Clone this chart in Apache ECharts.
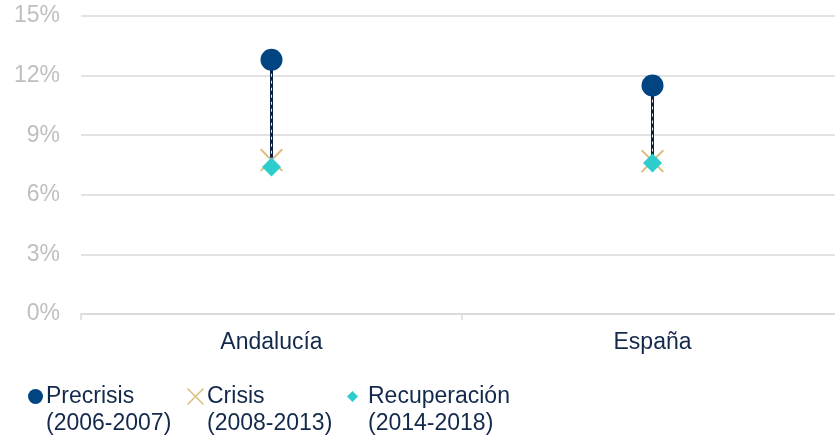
<!DOCTYPE html>
<html>
<head>
<meta charset="utf-8">
<script src="https://cdn.jsdelivr.net/npm/echarts@6/dist/echarts.min.js"></script>
<style>html,body{margin:0;padding:0;background:#fff}#c{width:835px;height:437px}</style>
</head>
<body>
<div id="c"></div>
<script>
const categories = ['Andalucía', 'España'];
const seriesNames = ['Precrisis', 'Crisis', 'Recuperación'];
const periods = ['(2006-2007)', '(2008-2013)', '(2014-2018)'];
const precrisis = [12.8, 11.5];
const crisis = [7.75, 7.7];
const recuperacion = [7.4, 7.6];
const yTicks = [0, 3, 6, 9, 12, 15];

const rangeData = categories.map((c, i) => [i, precrisis[i], Math.min(crisis[i], recuperacion[i])]);

const crossPath = 'path://M0,6L6,0L50,44L94,0L100,6L56,50L100,94L94,100L50,56L6,100L0,94L44,50Z';
const font = 'Liberation Sans, Arial, sans-serif';
const navy = '#13294B';
function legendStyle(padLeft) {
  return {
    fontFamily: font, fontSize: 23, color: navy,
    rich: {
      s: {fontSize: 23, lineHeight: 27, height: 27},
      a: {fontFamily: font, fontSize: 23, color: navy, lineHeight: 27, padding: [0, 0, 0, padLeft]}
    }
  };
}
const fmt = name => '{s| }\n{a|' + name + '}\n{a|' + periods[seriesNames.indexOf(name)] + '}';

const chart = echarts.init(document.getElementById('c'), null, {renderer: 'canvas'});
chart.setOption({
  animation: false,
  grid: {left: 81, width: 762, top: 16, bottom: 123, containLabel: false, outerBoundsMode: 'none'},
  xAxis: {
    type: 'category', data: categories,
    axisLine: {lineStyle: {color: '#D9D9D9', width: 1.5}},
    axisTick: {show: true, length: 6, lineStyle: {color: '#D9D9D9', width: 1.5}},
    axisLabel: {fontFamily: font, fontSize: 23, color: navy, margin: 17}
  },
  yAxis: {
    type: 'value', min: yTicks[0], max: yTicks[yTicks.length - 1], interval: 3,
    axisLine: {show: false}, axisTick: {show: false},
    splitLine: {lineStyle: {color: '#D9D9D9', width: 1.5}},
    axisLabel: {fontFamily: font, fontSize: 23, color: '#BFBFBF', margin: 21, formatter: '{value}%'}
  },
  legend: [
    {data: [{name: seriesNames[0], icon: 'circle'}], left: 23, top: 351, itemWidth: 15, itemHeight: 15,
     formatter: fmt, textStyle: legendStyle(-2)},
    {data: [{name: seriesNames[1], icon: crossPath}], left: 182, top: 351, itemWidth: 17, itemHeight: 17,
     formatter: fmt, textStyle: legendStyle(-2)},
    {data: [{name: seriesNames[2], icon: 'diamond'}], left: 342, top: 351, itemWidth: 11, itemHeight: 11,
     formatter: fmt, textStyle: legendStyle(5)}
  ],
  series: [
    {
      type: 'custom', name: 'range', z: 1, silent: true,
      data: rangeData,
      encode: {x: 0, y: [1, 2]},
      renderItem: function (params, api) {
        const a = api.coord([api.value(0), api.value(1)]);
        const b = api.coord([api.value(0), api.value(2)]);
        return {
          type: 'group',
          children: [
            {type: 'line', shape: {x1: a[0], y1: a[1], x2: b[0], y2: b[1]}, style: {stroke: '#0B2040', lineWidth: 3}},
            {type: 'line', shape: {x1: a[0], y1: a[1], x2: b[0], y2: b[1]}, style: {stroke: '#ffffff', lineWidth: 1, lineDash: [3, 4], opacity: 0.9}}
          ]
        };
      }
    },
    {type: 'scatter', name: seriesNames[1], z: 3, data: crisis, symbol: crossPath, symbolSize: 23,
     itemStyle: {color: '#D8BE7C', opacity: 1}},
    {type: 'scatter', name: seriesNames[2], z: 4, data: recuperacion, symbol: 'diamond', symbolSize: 19,
     itemStyle: {color: '#2DCCCD', opacity: 1}},
    {type: 'scatter', name: seriesNames[0], z: 5, data: precrisis, symbol: 'circle', symbolSize: 22,
     itemStyle: {color: '#004481', opacity: 1}}
  ]
});
</script>
</body>
</html>
